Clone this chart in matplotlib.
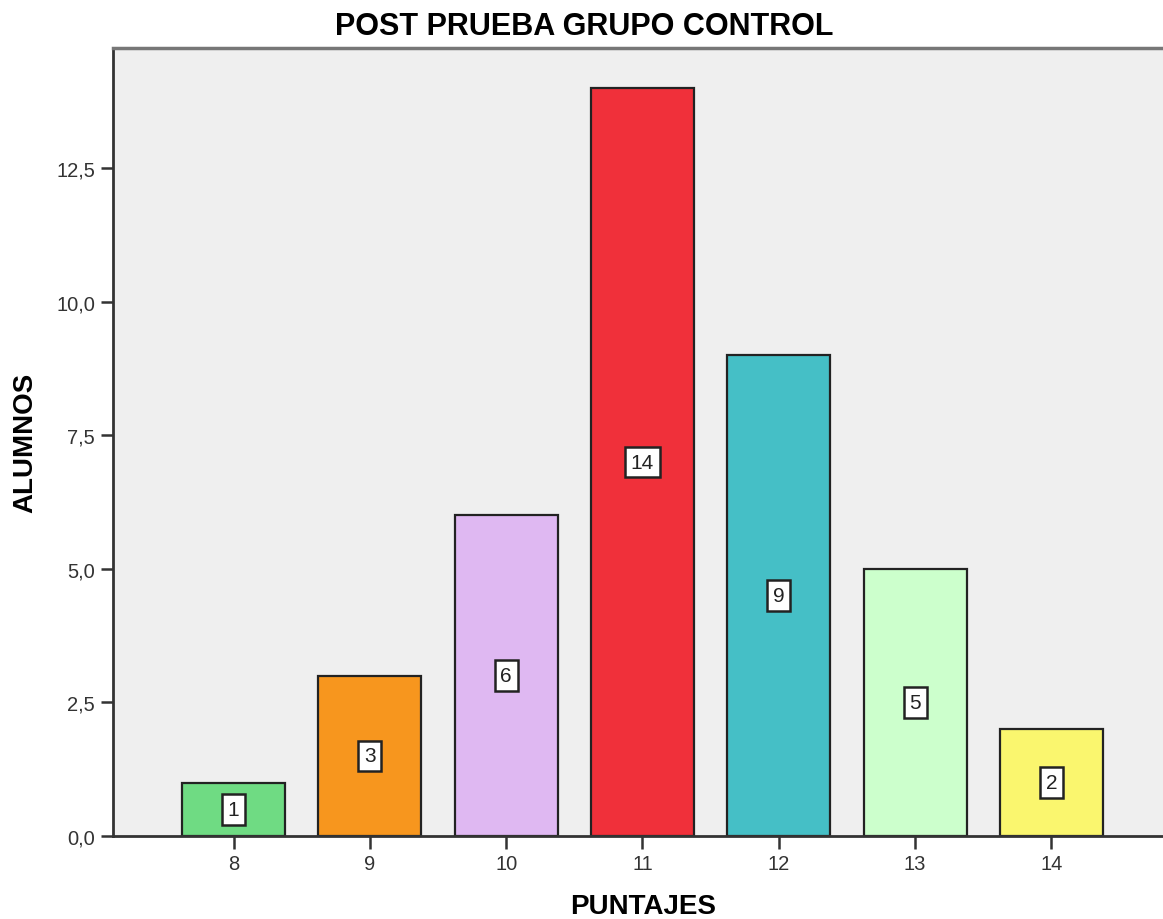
import matplotlib.pyplot as plt
from matplotlib.ticker import FuncFormatter

# frecuencia de alumnos por puntaje
puntajes = [8, 9, 10, 11, 12, 13, 14]
alumnos = [1, 3, 6, 14, 9, 5, 2]
colores = ['#6fdb83', '#f7961e', '#dfb8f2', '#f0303a', '#45bfc6', '#ccffcc', '#faf66e']
yticks = [0.0, 2.5, 5.0, 7.5, 10.0, 12.5]

plt.rcParams['font.family'] = ['Liberation Sans', 'DejaVu Sans']

W, H = 1163, 920
fig = plt.figure(figsize=(W / 100, H / 100), dpi=100)
ax = fig.add_axes([113 / W, 1 - 837 / H, 1 - 113 / W, (837 - 49) / H])
ax.set_facecolor('#efefef')

ax.bar(puntajes, alumnos, width=0.755, color=colores, edgecolor='#222222', linewidth=1.6, zorder=2)

for x, v in zip(puntajes, alumnos):
    ax.text(x, v / 2, str(v), ha='center', va='center', fontsize=15, color='#222222', zorder=3,
            bbox=dict(boxstyle='square,pad=0.28', facecolor='white', edgecolor='#222222', linewidth=1.8))

ax.set_xlim(7.116, 14.818)
ax.set_ylim(0, 14.75)
ax.set_xticks(puntajes)
ax.set_yticks(yticks)
ax.yaxis.set_major_formatter(FuncFormatter(lambda v, p: ('%.1f' % v).replace('.', ',')))
ax.tick_params(axis='both', direction='out', length=9, width=1.8, color='#333333',
               labelsize=14.5, labelcolor='#333333', pad=4)

for side in ['left', 'bottom']:
    ax.spines[side].set_color('#333333')
    ax.spines[side].set_linewidth(2)
ax.spines['top'].set_color('#777777')
ax.spines['top'].set_linewidth(2.5)
ax.spines['right'].set_visible(False)

fig.text(584 / W, 1 - 27 / H, 'POST PRUEBA GRUPO CONTROL', fontsize=22, fontweight='bold',
         ha='center', va='center')
fig.text(643 / W, 1 - 907 / H, 'PUNTAJES', fontsize=20, fontweight='bold', ha='center', va='center')
fig.text(25 / W, 1 - 443 / H, 'ALUMNOS', fontsize=20, fontweight='bold', ha='center', va='center',
         rotation=90)

fig.savefig('out.png', dpi=100)
